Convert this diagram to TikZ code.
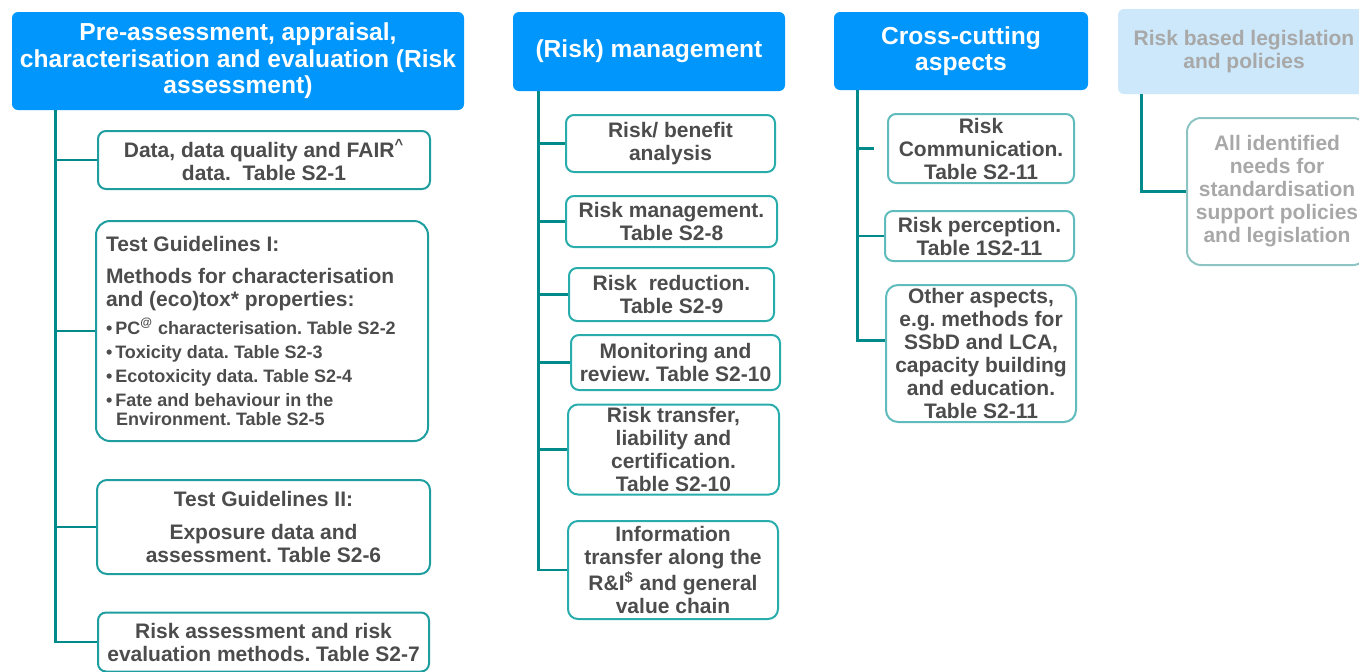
\documentclass[tikz,border=0pt]{standalone}
\usepackage{fontspec}
\setmainfont{Liberation Sans}
\usetikzlibrary{positioning}
\definecolor{headblue}{RGB}{0,150,252}
\definecolor{paleblue}{RGB}{204,232,250}
\definecolor{linkteal}{RGB}{0,138,138}
\definecolor{edgeteal}{RGB}{30,158,158}
\definecolor{midteal}{RGB}{40,172,172}
\definecolor{lightteal}{RGB}{96,188,188}
\definecolor{greyteal}{RGB}{142,196,196}
\definecolor{inkgrey}{RGB}{76,76,76}
\definecolor{palegrey}{RGB}{168,168,168}

\begin{document}
\frenchspacing
\begin{tikzpicture}[x=0.5pt,y=-0.5pt,
  head/.style={fill=headblue, text=white, rounded corners=3pt, align=center,
    font=\bfseries\fontsize{12.3}{13.25}\selectfont, inner sep=0pt},
  item/.style={draw=edgeteal, line width=1pt, rounded corners=4pt, align=center,
    text=inkgrey, font=\bfseries\fontsize{10.5}{11.5}\selectfont, inner sep=0pt},
  link/.style={draw=linkteal, line width=1.2pt}]
\path[use as bounding box, clip] (0,0) rectangle (1359,671);

% risk assessment
\node[head, minimum width=226pt, minimum height=49pt] (assess) at (238,61)
  {Pre-assessment, appraisal,\\characterisation and evaluation (Risk\\assessment)};
\node[item, minimum width=166pt, minimum height=29pt] (data) at (264,160)
  {Data, data quality and FAIR\textsuperscript{\textasciicircum}\\data.~~Table S2-1};
\node[item, rounded corners=7pt, minimum width=166pt, minimum height=110pt,
  text width=156pt, align=flush left] (tg1) at (262,331) {%
  Test Guidelines I:\par\vspace{4.5pt}
  Methods for characterisation\\and (eco)tox* properties:\par\vspace{2pt}
  \fontsize{9}{12}\selectfont
  \textbullet\hspace{1.5pt}PC\textsuperscript{@} characterisation. Table S2-2\\
  \textbullet\hspace{1.5pt}Toxicity data. Table S2-3\\
  \textbullet\hspace{1.5pt}Ecotoxicity data. Table S2-4\\
  \textbullet\hspace{1.5pt}Fate and behaviour in the\\[-2pt]
  \hspace*{5pt}Environment. Table S2-5};
\node[item, rounded corners=5pt, minimum width=166.5pt, minimum height=47pt] (tg2) at (263.5,527)
  {Test Guidelines II:\\[5pt]Exposure data and\\assessment. Table S2-6};
\node[item, minimum width=165.5pt, minimum height=29.5pt] (eval) at (263.5,642)
  {Risk assessment and risk\\evaluation methods. Table S2-7};

% risk management
\node[head, minimum width=136pt, minimum height=39.5pt] (manage) at (649,51.5)
  {(Risk) management};
\node[item, draw=midteal, minimum width=104.5pt, minimum height=28.5pt] (benefit) at (670.5,143.5)
  {Risk/ benefit\\analysis};
\node[item, draw=midteal, minimum width=105.5pt, minimum height=25.5pt] (rman) at (671.5,221.5)
  {Risk management.\\Table S2-8};
\node[item, draw=midteal, minimum width=102.5pt, minimum height=26.5pt] (reduce) at (671.5,294.5)
  {Risk~~reduction.\\Table S2-9};
\node[item, draw=midteal, minimum width=104.5pt, minimum height=27.5pt] (monitor) at (675.5,362.5)
  {Monitoring and\\review. Table S2-10};
\node[item, draw=midteal, rounded corners=5pt, minimum width=105.5pt, minimum height=45pt] (transfer) at (673.5,449.5)
  {Risk transfer,\\liability and\\certification.\\Table S2-10};
\node[item, draw=midteal, rounded corners=5pt, minimum width=105pt, minimum height=49pt] (info) at (673,570)
  {Information\\transfer along the\\R\&I\textsuperscript{\$} and general\\value chain};

% cross-cutting aspects
\node[head, minimum width=127pt, minimum height=39pt] (cross) at (961,51)
  {Cross-cutting\\aspects};
\node[item, draw=lightteal, minimum width=93pt, minimum height=34.5pt] (comm) at (981,148.5)
  {Risk\\Communication.\\Table S2-11};
\node[item, draw=lightteal, minimum width=94.5pt, minimum height=25pt] (percept) at (979.5,236)
  {Risk perception.\\Table 1S2-11};
\node[item, draw=lightteal, rounded corners=6pt, minimum width=95pt, minimum height=68.5pt] (other) at (981,353.5)
  {Other aspects,\\e.g. methods for\\SSbD and LCA,\\capacity building\\and education.\\Table S2-11};

% legislation and policies
\node[head, fill=paleblue, text=palegrey, font=\bfseries\fontsize{10.5}{11.25}\selectfont,
  minimum width=126pt, minimum height=42.5pt] (policy) at (1244,51.5)
  {Risk based legislation\\and policies};
\node[item, draw=greyteal, text=palegrey, rounded corners=7pt, minimum width=90pt,
  minimum height=73.5pt] (needs) at (1277,191.5)
  {All identified\\needs for\\standardisation\\support policies\\and legislation};

% trunks and branches
\path (assess.south west) ++(44,0) coordinate (t1);
\path (manage.south west) ++(26,0) coordinate (t2);
\path (cross.south west) ++(24,0) coordinate (t3);
\path (policy.south west) ++(24,0) coordinate (t4);
\foreach \b in {data,tg1,tg2,eval}
  \draw[link] (t1) |- (\b.west);
\foreach \b in {benefit,rman,reduce,monitor,transfer,info}
  \draw[link] (t2) |- (\b.west);
\draw[link] (t3) |- ([xshift=-6.5pt]comm.west);
\draw[link] (t3) |- (percept.west);
\draw[link] (t3) |- ([yshift=6.5pt]other.west);
\draw[link] (t4) |- (needs.west);
\end{tikzpicture}
\end{document}
